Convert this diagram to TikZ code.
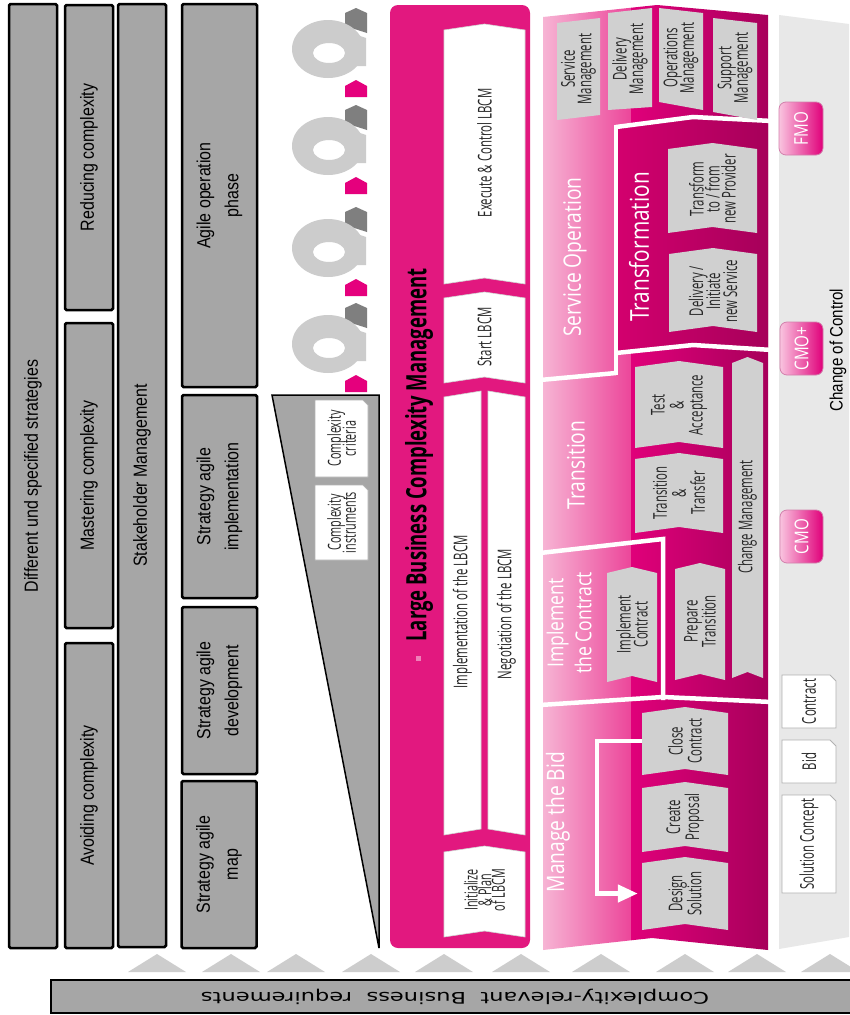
\documentclass[tikz,border=0pt]{standalone}
\usepackage{graphicx}
\usepackage{fontspec}
\setmainfont{Liberation Sans}
\newfontfamily\labf[FakeStretch=0.6]{Open Sans}
\newfontfamily\titf[FakeStretch=0.8]{Open Sans}
\newfontfamily\headf[FakeStretch=0.66]{Open Sans}
\newfontfamily\arf[FakeStretch=0.84]{Liberation Sans}
\newfontfamily\dvf{DejaVu Sans}
\usetikzlibrary{arrows.meta}

\definecolor{colgray}{HTML}{A6A6A6}
\definecolor{trigray}{HTML}{CDCDCD}
\definecolor{ringgray}{HTML}{CCCCCC}
\definecolor{darkpiece}{HTML}{7F7F7F}
\definecolor{mag}{HTML}{E2187F}
\definecolor{magpiece}{HTML}{E5007D}
\definecolor{boxgray}{HTML}{D0D0D0}
\definecolor{bandgray}{HTML}{E8E8E8}
\definecolor{pinkL}{HTML}{F7B8D6}
\definecolor{pinkM}{HTML}{EC469A}
\definecolor{magA}{HTML}{E0007A}
\definecolor{magB}{HTML}{A6005A}
\definecolor{magT}{HTML}{D3006E}
\definecolor{btnL}{HTML}{F9C4DF}
\definecolor{labtext}{HTML}{262626}

% chevron pointing up: [style]{x1}{y1}{x2}{y2}{depth}
\newcommand\chev[6][]{\path[#1] (#2,{#3+#6}) -- ({(#2+#4)/2},#3) -- (#4,{#3+#6}) -- (#4,#5) -- ({(#2+#4)/2},{#5-#6}) -- (#2,#5) -- cycle;}
% sheet with folded corner: {x1}{y1}{x2}{y2}{fold}
\newcommand\docbox[5]{\path[docstyle] (#1,#2) -- ({#3-#5},#2) -- (#3,{#2+#5}) -- (#3,#4) -- (#1,#4) -- cycle;}
% one cog of the chain
\newcommand\gearunit[1]{%
  \begin{scope}[shift={(0,#1)}]
    \fill[darkpiece] (345,13) -- (356,8) -- (367,13) -- (367,33) -- (345,26) -- cycle;
    \fill[ringgray, even odd rule] (328,49) ellipse [x radius=36pt, y radius=29pt]
                                   (329,53) ellipse [x radius=16pt, y radius=10pt];
    \fill[ringgray] (346,31) -- (366,38) -- (366,66) -- (346,66) -- cycle;
    \fill[magpiece] (345,86) -- (356,80) -- (367,86) -- (367,97) -- (345,97) -- cycle;
  \end{scope}}
% small upward marker above the base bar
\newcommand\upmark[1]{\fill[trigray] ({#1-29},972) -- (#1,954) -- ({#1+29},972) -- cycle;}

\begin{document}
\lineskiplimit=-50pt
\begin{tikzpicture}[x=1pt,y=-1pt,
  colbox/.style={draw=black, line width=2.5pt, fill=colgray, rounded corners=1.5pt, rotate=90,
                 align=center, inner sep=0pt, font=\arf\fontsize{19}{28}\selectfont},
  lab/.style={rotate=90, align=center, inner sep=0pt, text=labtext, font=\labf\fontsize{19}{19}\selectfont},
  ttl/.style={rotate=90, align=center, inner sep=0pt, text=white, font=\titf\fontsize{24}{27}\selectfont},
  procfill/.style={fill=boxgray},
  lbcmfill/.style={fill=white, draw=black!18, line width=0.6pt},
  docstyle/.style={fill=white, draw=black!30, line width=0.8pt},
  whitesep/.style={draw=white, line width=4.5pt},
  btn/.style={left color=btnL, right color=magA, rounded corners=7pt, draw=magB!50, line width=0.8pt},
  btntext/.style={rotate=90, inner sep=0pt, text=white, font=\titf\fontsize{19}{20}\selectfont},
  flowarrow/.style={draw=white, line width=4.5pt, -{Triangle[length=20pt,width=17pt]}, shorten >=4pt}
]
\useasboundingbox (0,0) rectangle (849,1015);
\fill[white] (0,0) rectangle (849,1015);

% ---------------- strategy columns ----------------
\node[colbox, minimum width=944, minimum height=48] (strategies) at (33,476) {Different und specified strategies};
\node[colbox, minimum width=305, minimum height=48] (reducing) at (89,157.5) {Reducing complexity};
\node[colbox, minimum width=305, minimum height=48] (mastering) at (89,475.5) {Mastering complexity};
\node[colbox, minimum width=305, minimum height=48] (avoiding) at (89,795.5) {Avoiding complexity};
\node[colbox, minimum width=943, minimum height=48] (stakeholder) at (142,475.5) {Stakeholder Management};
\node[colbox, minimum width=383, minimum height=75] (agileop) at (219.5,195.5) {Agile operation\\phase};
\node[colbox, minimum width=203, minimum height=75] (agileimpl) at (219.5,496.5) {Strategy agile\\implementation};
\node[colbox, minimum width=167, minimum height=75] (agiledev) at (219.5,690.5) {Strategy agile\\development};
\node[colbox, minimum width=167, minimum height=75] (agilemap) at (219,864.5) {Strategy agile\\map};

% ---------------- cog chain ----------------
\gearunit{0}
\gearunit{97}
\gearunit{199}
\gearunit{295}

% ---------------- complexity wedge ----------------
\draw[fill=colgray, line width=1.5pt, line join=miter] (272,395) -- (379,395) -- (379,948) -- cycle;
\docbox{315}{400}{368}{477}{5}
\node[lab, font=\labf\fontsize{18}{15}\selectfont] (crit) at (341.5,438.5) {Complexity\\criteria};
\docbox{315}{485}{368}{560}{5}
\node[lab, font=\labf\fontsize{18}{15}\selectfont] (instr) at (341.5,522.5) {Complexity\\instruments};

% ---------------- LBCM panel ----------------
\fill[mag, rounded corners=8pt] (390,5) rectangle (530,948);
\node[rotate=90, inner sep=0pt, font=\headf\bfseries\fontsize{28}{30}\selectfont] (lbcm) at (419,455) {Large Business Complexity Management};
\fill[mag!55!white] (416,656) rectangle (421,661);
\chev[lbcmfill]{444}{24}{525}{284}{6}
\chev[lbcmfill]{444}{292}{525}{383}{6}
\path[lbcmfill] (444,397) -- (481,391) -- (481,829) -- (444,835) -- cycle;
\path[lbcmfill] (488,391) -- (525,397) -- (525,835) -- (488,829) -- cycle;
\chev[lbcmfill]{444}{846}{525}{937}{6}
\node[lab] (execctl) at (484.5,153) {Execute \& Control LBCM};
\node[lab] (startl) at (484.5,337) {Start LBCM};
\node[lab] (impll) at (462.5,612) {Implementation of the LBCM};
\node[lab] (negl) at (506.5,614) {Negotiation of the LBCM};
\node[lab, font=\labf\fontsize{18}{13.6}\selectfont] (initl) at (484.5,890) {Initialize\\\& Plan\\of LBCM};

% ---------------- change of control band ----------------
\fill[bandgray] (779,15) -- (849,24) -- (849,937) -- (779,949) -- cycle;

% ---------------- service block ----------------
\begin{scope}
  \clip (543,17) -- (657,5) -- (768,15) -- (768,950) -- (652,938) -- (543,950) -- cycle;
  \shade[left color=pinkL, right color=pinkM] (540,0) rectangle (631,960);
  \shade[left color=magA, right color=magB] (631,0) rectangle (772,960);
\end{scope}
\shade[left color=magT, right color=magB] (618,127) -- (693,117) -- (768,121) -- (768,350) -- (693,345) -- (618,353) -- cycle;
\draw[whitesep] (616,127) -- (693,117) -- (772,121);
\draw[whitesep] (616,125) -- (616,375);
\draw[whitesep] (616,353) -- (693,345) -- (772,350);
\draw[whitesep] (540,380) -- (616,373);
\draw[whitesep] (540,553) -- (663,539) -- (663,700);
\draw[whitesep] (540,705) -- (663,697) -- (772,702);

% service operation
\path[procfill] (557,23) -- (600,18) -- (600,115) -- (557,120) -- cycle;
\path[procfill] (608,13) -- (652,8) -- (652,107) -- (608,110) -- cycle;
\path[procfill] (659,8) -- (703,13) -- (703,110) -- (659,102) -- cycle;
\path[procfill] (713,18) -- (757,23) -- (757,120) -- (713,112) -- cycle;
\node[lab, font=\labf\fontsize{19}{16.5}\selectfont] (svcmgmt) at (578.5,69) {Service\\Management};
\node[lab, font=\labf\fontsize{19}{16.5}\selectfont] (delmgmt) at (630,59) {Delivery\\Management};
\node[lab, font=\labf\fontsize{19}{16.5}\selectfont] (opsmgmt) at (681,58) {Operations\\Management};
\node[lab, font=\labf\fontsize{19}{16.5}\selectfont] (supmgmt) at (735,68) {Support\\Management};
\node[ttl] (svcop) at (575,257) {Service Operation};

% transformation
\node[ttl, font=\titf\fontsize{26}{27}\selectfont] (transf) at (639,247) {Transformation};
\chev[procfill]{668}{143}{757}{233}{6}
\chev[procfill]{669}{248}{757}{332}{6}
\node[lab, font=\labf\fontsize{19}{16}\selectfont] (transprov) at (712.5,189) {Transform\\to / from\\new Provider};
\node[lab, font=\labf\fontsize{19}{17}\selectfont] (delinit) at (713,291) {Delivery /\\Initiate\\new Service};

% transition
\node[ttl] (transition) at (576,465) {Transition};
\chev[procfill]{635}{361}{723}{448}{6}
\chev[procfill]{635}{453}{723}{533}{6}
\chev[procfill]{732}{357}{763}{678}{6}
\chev[procfill]{675}{563}{725}{680}{6}
\node[lab] (testacc) at (679,405) {Test\\\&\\Acceptance};
\node[lab] (transtr) at (679,493) {Transition\\\&\\Transfer};
\node[lab] (changemgmt) at (747.5,517) {Change Management};
\node[lab, font=\labf\fontsize{19}{18}\selectfont] (preptrans) at (700,621.5) {Prepare\\Transition};

% implement the contract
\node[ttl, font=\titf\fontsize{22}{28}\selectfont] (implcontract) at (569,623) {Implement\\the Contract};
\chev[procfill]{607}{567}{657}{682}{6}
\node[lab, font=\labf\fontsize{19}{17}\selectfont] (implc) at (632,624.5) {Implement\\Contract};

% manage the bid
\node[ttl] (managebid) at (558,822) {Manage the Bid};
\chev[procfill]{642}{707}{728}{775}{6}
\chev[procfill]{642}{782}{728}{852}{6}
\chev[procfill]{642}{857}{728}{930}{6}
\node[lab, minimum width=68, minimum height=86] (closecontract) at (685,741) {Close\\Contract};
\node[lab] (createprop) at (685,817) {Create\\Proposal};
\node[lab, minimum width=73, minimum height=86] (designsolution) at (685,893.5) {Design\\Solution};
\draw[flowarrow] (closecontract.north) -- ++(-45,0) |- (designsolution.north);

% ---------------- milestones and documents ----------------
\shade[btn] (779,102) rectangle (823,155);
\node[btntext] (fmo) at (801,128.5) {FMO};
\shade[btn] (780,322) rectangle (823,375);
\node[btntext] (cmoplus) at (801.5,348.5) {CMO+};
\shade[btn] (780,510) rectangle (823,563);
\node[btntext] (cmo) at (801.5,536.5) {CMO};
\node[rotate=90, inner sep=0pt, font=\arf\fontsize{18}{18}\selectfont] (coc) at (838,350) {Change of Control};

\docbox{782}{675}{836}{728}{6}
\node[lab] (contractdoc) at (809,701.5) {Contract};
\docbox{782}{740}{836}{783}{6}
\node[lab] (biddoc) at (809,761.5) {Bid};
\docbox{782}{795}{836}{893}{6}
\node[lab] (solconcept) at (809,844) {Solution Concept};

% ---------------- business requirements base ----------------
\upmark{157}\upmark{231}\upmark{296}\upmark{371}\upmark{444}
\upmark{521}\upmark{601}\upmark{685}\upmark{757}\upmark{830}
\draw[fill=colgray, line width=2.5pt] (51,980) rectangle (853,1013);
\node[rotate=180, inner sep=0pt] (bizreq) at (455,996.5)
  {\resizebox{508pt}{\height}{\dvf\fontsize{16}{18}\selectfont Complexity-relevant\ \ Business\ \ requirements}};
\end{tikzpicture}
\end{document}
